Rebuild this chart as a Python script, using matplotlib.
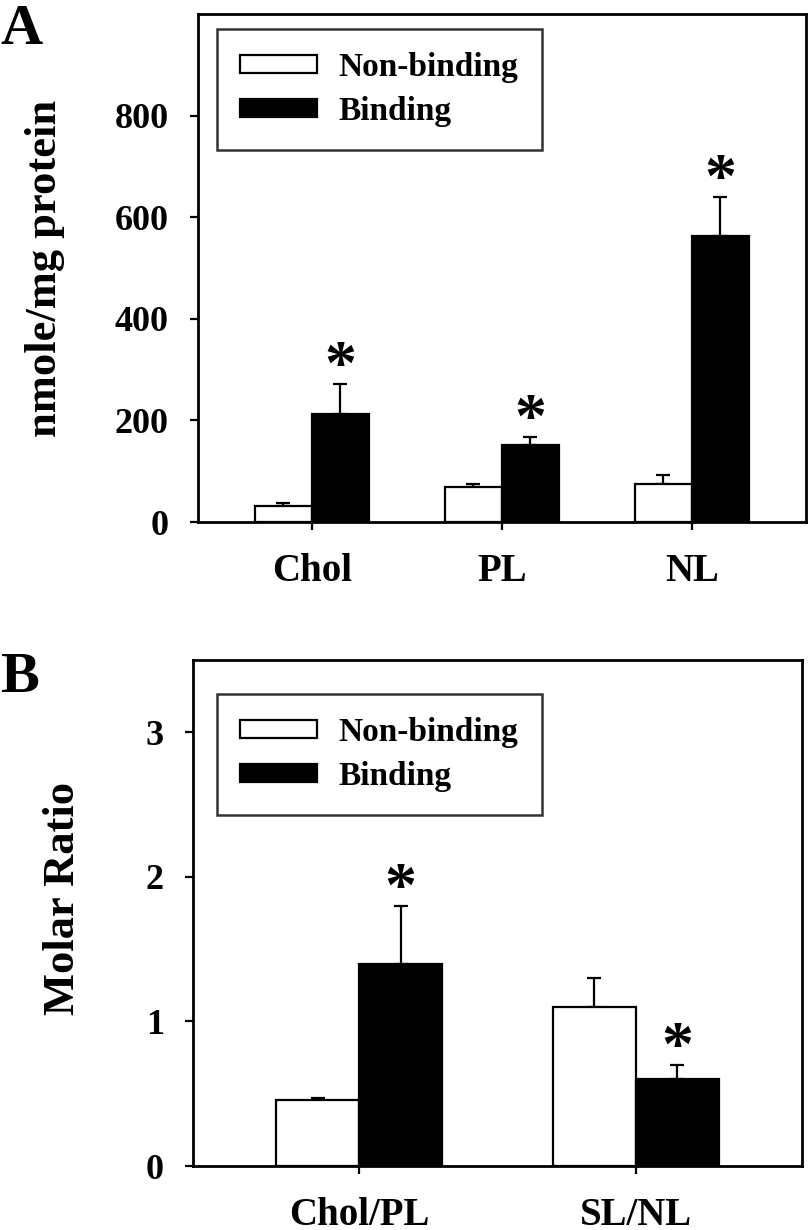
import numpy as np
import matplotlib
matplotlib.use("Agg")
import matplotlib.pyplot as plt

plt.rcParams["font.family"] = ["Liberation Serif", "DejaVu Serif"]
plt.rcParams["font.weight"] = "bold"

# Panel A data (nmole/mg protein)
lipids_a = ["Chol", "PL", "NL"]
nonbinding_a = [31, 68, 74]
nonbinding_a_err = [6, 7, 18]
binding_a = [212, 152, 564]
binding_a_err = [60, 16, 76]
signif_a = [True, True, True]

# Panel B data (molar ratio)
ratios_b = ["Chol/PL", "SL/NL"]
nonbinding_b = [0.46, 1.10]
nonbinding_b_err = [0.01, 0.20]
binding_b = [1.40, 0.60]
binding_b_err = [0.40, 0.10]
signif_b = [True, True]

groups = ["Non-binding", "Binding"]


def draw_panel(ax, cats, nb, nb_err, b, b_err, signif, ylim, yticks, ylabel):
    x = np.arange(len(cats))
    w = 0.3
    ax.bar(x - w / 2, nb, w, color="white", edgecolor="black", linewidth=1.6,
           label=groups[0], zorder=2)
    ax.bar(x + w / 2, b, w, color="black", edgecolor="black", linewidth=1.6,
           label=groups[1], zorder=2)
    ax.errorbar(x - w / 2, nb, yerr=[np.zeros(len(nb)), nb_err], fmt="none",
                ecolor="black", elinewidth=1.6, capsize=5, capthick=1.6, zorder=1)
    ax.errorbar(x + w / 2, b, yerr=[np.zeros(len(b)), b_err], fmt="none",
                ecolor="black", elinewidth=1.6, capsize=5, capthick=1.6, zorder=1)
    # significance stars above the binding bars
    for i, s in enumerate(signif):
        if s:
            ax.annotate("*", xy=(x[i] + w / 2, b[i] + b_err[i]),
                        xytext=(0, -10), textcoords="offset points",
                        ha="center", va="bottom", fontsize=46, fontweight="bold")
    ax.set_xlim(-0.6, len(cats) - 0.4)
    ax.set_ylim(*ylim)
    ax.set_yticks(yticks)
    ax.set_xticks(x)
    ax.set_xticklabels(cats, fontsize=28, fontweight="bold")
    ax.set_yticklabels([str(t) for t in yticks], fontsize=26, fontweight="bold")
    ax.tick_params(axis="both", direction="out", length=6, width=1.6)
    ax.tick_params(axis="x", pad=16)
    ax.tick_params(axis="y", pad=15)
    for sp in ax.spines.values():
        sp.set_linewidth(2.0)
    ax.set_ylabel(ylabel, fontsize=32, fontweight="bold")
    leg = ax.legend(loc="upper left", fontsize=24, frameon=True, fancybox=False,
                    edgecolor="black", handlelength=2.3, handleheight=0.45,
                    handletextpad=0.65, labelspacing=0.38, borderpad=0.7,
                    borderaxespad=0)
    leg.get_frame().set_linewidth(1.8)
    for t in leg.get_texts():
        t.set_fontweight("bold")
    return leg


fig = plt.figure(figsize=(8.1, 12.3), dpi=100)

ax_a = fig.add_axes([0.2444, 0.5756, 0.7506, 0.4130])
leg_a = draw_panel(ax_a, lipids_a, nonbinding_a, nonbinding_a_err, binding_a,
                   binding_a_err, signif_a, (0, 1000), [0, 200, 400, 600, 800],
                   "nmole/mg protein")
leg_a.set_bbox_to_anchor((0.031, 0.971), transform=ax_a.transAxes)
ax_a.yaxis.set_label_coords(-0.219, 0.5)

ax_b = fig.add_axes([0.2383, 0.0520, 0.7519, 0.4114])
leg_b = draw_panel(ax_b, ratios_b, nonbinding_b, nonbinding_b_err, binding_b,
                   binding_b_err, signif_b, (0, 3.5), [0, 1, 2, 3],
                   "Molar Ratio")
leg_b.set_bbox_to_anchor((0.039, 0.933), transform=ax_b.transAxes)
ax_b.yaxis.set_label_coords(-0.181, 0.528)

fig.text(0.0, 1 - 44 / 1230, "A", fontsize=42, fontweight="bold", va="baseline")
fig.text(0.0, 1 - 692 / 1230, "B", fontsize=42, fontweight="bold", va="baseline")

fig.savefig("out.png", dpi=100)
